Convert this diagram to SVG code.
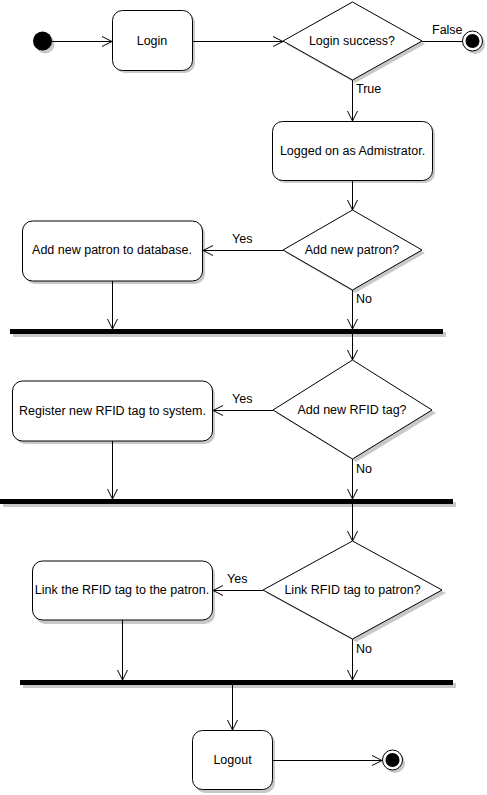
<svg xmlns="http://www.w3.org/2000/svg" width="487" height="795" viewBox="0 0 487 795">
<style>
.box{fill:#fff;stroke:#000;stroke-width:1}
.sh{fill:#c8c8c8;stroke:none}
.bar{fill:#000}
.t{font-family:"Liberation Sans",Arial,sans-serif;font-size:12.5px;fill:#000;text-anchor:middle;dominant-baseline:central}
.l{font-family:"Liberation Sans",Arial,sans-serif;font-size:12.5px;fill:#000;dominant-baseline:central}
.c{fill:none;stroke:#000;stroke-width:1;marker-end:url(#arr)}
.cn{fill:none;stroke:#000;stroke-width:1}
</style>
<defs>
<marker id="arr" viewBox="-1 -1 12 12" refX="10" refY="5" markerWidth="12" markerHeight="12" markerUnits="userSpaceOnUse" orient="auto">
<path d="M0,0 L10,5 L0,10" fill="none" stroke="#000" stroke-width="1"/>
</marker>
</defs>
<rect width="487" height="795" fill="#fff"/>
<g id="start"><circle class="sh" cx="45" cy="44" r="9.5"/><circle cx="42.5" cy="41" r="9.5" fill="#000"/></g>
<g id="login"><rect class="sh" x="115" y="13" width="80" height="60" rx="10"/><rect class="box" x="112.5" y="10.5" width="80" height="60" rx="10"/><text class="t" x="152" y="41">Login</text></g>
<g id="dec1"><polygon class="sh" points="286,44 355,5 425,44 355,83"/><polygon class="box" points="283,41 352.5,2 422,41 352.5,80"/><text class="t" x="352" y="41">Login success?</text></g>
<g id="end1"><circle class="sh" cx="475" cy="44" r="10"/><circle cx="472.5" cy="41" r="10" fill="#fff" stroke="#000"/><circle cx="472.5" cy="41" r="7" fill="#000"/></g>
<g id="logged"><rect class="sh" x="275" y="124" width="160" height="59" rx="10"/><rect class="box" x="272.5" y="121.5" width="160" height="59" rx="10"/><text class="t" x="352.5" y="151">Logged on as Admistrator.</text></g>
<g id="dec2"><polygon class="sh" points="286,253 355,213 425,253 355,293"/><polygon class="box" points="283,250 352.5,210 422,250 352.5,290"/><text class="t" x="352" y="250">Add new patron?</text></g>
<g id="addpatron"><rect class="sh" x="25" y="224" width="180" height="60" rx="10"/><rect class="box" x="22.5" y="221" width="180" height="60" rx="10"/><text class="t" x="112" y="250">Add new patron to database.</text></g>
<g id="bar1"><rect class="sh" x="13" y="332" width="433" height="5"/><rect class="bar" x="10" y="329" width="433" height="5"/></g>
<g id="dec3"><polygon class="sh" points="276,413 356,363 436,413 356,462"/><polygon class="box" points="273,410 352.5,360 432,410 352.5,459"/><text class="t" x="352" y="410">Add new RFID tag?</text></g>
<g id="register"><rect class="sh" x="15" y="384" width="200" height="60" rx="10"/><rect class="box" x="12.5" y="381" width="200" height="60" rx="10"/><text class="t" x="112.5" y="411">Register new RFID tag to system.</text></g>
<g id="bar2"><rect class="sh" x="3" y="502" width="453" height="5"/><rect class="bar" x="0" y="499" width="453" height="5"/></g>
<g id="dec4"><polygon class="sh" points="266,593 356,544 446,593 356,642"/><polygon class="box" points="263,590 352.5,541 442,590 352.5,639"/><text class="t" x="352.5" y="590">Link RFID tag to patron?</text></g>
<g id="link"><rect class="sh" x="35" y="564" width="180" height="60" rx="10"/><rect class="box" x="32.5" y="561" width="180" height="59" rx="10"/><text class="t" x="122" y="590">Link the RFID tag to the patron.</text></g>
<g id="bar3"><rect class="sh" x="23" y="683" width="433" height="5"/><rect class="bar" x="20" y="680" width="433" height="5"/></g>
<g id="logout"><rect class="sh" x="195" y="733" width="80" height="60" rx="10"/><rect class="box" x="192.5" y="730.5" width="80" height="59" rx="10"/><text class="t" x="232.5" y="760">Logout</text></g>
<g id="end2"><circle class="sh" cx="395" cy="763" r="10"/><circle cx="392.5" cy="760" r="10" fill="#fff" stroke="#000"/><circle cx="392.5" cy="760" r="7" fill="#000"/></g>
<g id="connectors">
<path class="c" d="M52,41.5 H112"/>
<path class="c" d="M192.5,41.5 H283"/>
<path class="cn" d="M422,41.5 H462.5"/>
<text class="l" x="432" y="30">False</text>
<path class="c" d="M352.5,80 V121"/>
<text class="l" x="356" y="89">True</text>
<path class="c" d="M352.5,181 V210"/>
<path class="c" d="M283,250.5 H203"/>
<text class="l" x="232" y="239">Yes</text>
<path class="c" d="M352.5,290 V329"/>
<text class="l" x="356" y="299">No</text>
<path class="c" d="M112.5,281 V329"/>
<path class="c" d="M352.5,334 V360"/>
<path class="c" d="M273,410.5 H213"/>
<text class="l" x="232" y="399">Yes</text>
<path class="c" d="M352.5,459 V499"/>
<text class="l" x="356" y="469">No</text>
<path class="c" d="M112.5,441 V499"/>
<path class="c" d="M352.5,504 V541"/>
<path class="c" d="M263,590.5 H213"/>
<text class="l" x="227" y="579">Yes</text>
<path class="c" d="M352.5,639 V680"/>
<text class="l" x="356" y="649">No</text>
<path class="c" d="M122.5,620 V680"/>
<path class="c" d="M232.5,685 V730"/>
<path class="c" d="M272.5,760.5 H382"/>
</g>
</svg>
